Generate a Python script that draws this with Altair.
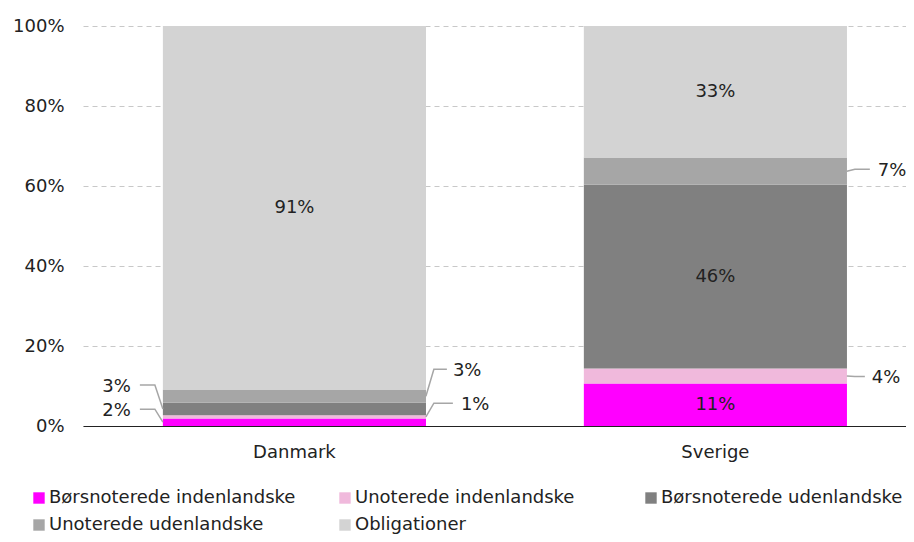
import altair as alt
import pandas as pd

categories = ["Danmark", "Sverige"]
series = [
    "Børsnoterede indenlandske",
    "Unoterede indenlandske",
    "Børsnoterede udenlandske",
    "Unoterede udenlandske",
    "Obligationer",
]
danmark = [1.9, 0.8, 3.1, 3.3, 90.9]
sverige = [10.6, 3.8, 45.9, 6.8, 32.9]
colors = ["#FF00FF", "#F0B9DC", "#808080", "#A6A6A6", "#D3D3D3"]
y_ticks = [0, 20, 40, 60, 80, 100]

# --- style: segments labelled outside the bar
# (side, label height in %, leader end px from bar edge, text px from bar edge)
outside = {
    ("Danmark", "Børsnoterede indenlandske"): ("left", 4.2, 23, 32),
    ("Danmark", "Børsnoterede udenlandske"): ("left", 10.25, 23, 32),
    ("Danmark", "Unoterede indenlandske"): ("right", 5.7, 27, 35),
    ("Danmark", "Unoterede udenlandske"): ("right", 14.2, 21, 27),
    ("Sverige", "Unoterede indenlandske"): ("right", 12.4, 18, 25),
    ("Sverige", "Unoterede udenlandske"): ("right", 64.2, 23, 31),
}
BAR_W = 263
ELBOW = 8

rows = []
for cat, vals in zip(categories, [danmark, sverige]):
    acc = 0.0
    for i, (s, v) in enumerate(zip(series, vals)):
        rows.append(dict(cat=cat, series=s, order=i, start=acc, end=acc + v,
                         mid=acc + v / 2, label=f"{round(v)}%",
                         inside=(cat, s) not in outside))
        acc += v
bars = pd.DataFrame(rows)


def edge_off(side, d):
    # pixel offset measured from the band start (bar's left edge)
    return -d if side == "left" else BAR_W + d


lead_rows, txt_rows = [], []
for k, ((cat, s), (side, ylab, cend, toff)) in enumerate(outside.items()):
    r = bars[(bars.cat == cat) & (bars.series == s)].iloc[0]
    lead_rows += [
        dict(id=k, pt=0, cat=cat, off=edge_off(side, 0), y=r.mid),
        dict(id=k, pt=1, cat=cat, off=edge_off(side, ELBOW), y=ylab),
        dict(id=k, pt=2, cat=cat, off=edge_off(side, cend), y=ylab),
    ]
    txt_rows.append(dict(cat=cat, off=edge_off(side, toff), y=ylab, label=r.label, side=side))
leaders = pd.DataFrame(lead_rows)
txt = pd.DataFrame(txt_rows)

FS = 18
xscale = alt.Scale(domain=categories, paddingInner=0.375, paddingOuter=0.165, align=0.575)
yscale = alt.Scale(domain=[0, 100])

x_axis = alt.X("cat:N", sort=categories, scale=xscale,
               axis=alt.Axis(title=None, labelAngle=0, ticks=False, domainColor="#222222",
                             domainWidth=1.2, labelFontSize=FS, labelColor="#222222",
                             labelPadding=17, zindex=1))

bar_layer = alt.Chart(bars).mark_bar().encode(
    x=x_axis,
    y=alt.Y("start:Q", scale=yscale,
            axis=alt.Axis(values=y_ticks, labelExpr="datum.value + '%'", title=None,
                          domain=False, ticks=False, gridDash=[5, 4], gridColor="#C8C8C8",
                          labelPadding=19, labelFontSize=FS, labelColor="#222222")),
    y2="end:Q",
    color=alt.Color("series:N", scale=alt.Scale(domain=series, range=colors),
                    legend=alt.Legend(title=None, orient="none", legendX=-53, legendY=463,
                                      direction="horizontal", columns=3, symbolType="square",
                                      symbolSize=130, symbolStrokeWidth=0, labelFontSize=FS,
                                      labelColor="#222222", columnPadding=40, rowPadding=9,
                                      gridAlign="all", labelLimit=400, labelOffset=1)),
)

inside_text = alt.Chart(bars).transform_filter("datum.inside").mark_text(
    fontSize=FS, color="#222222", baseline="middle"
).encode(x=alt.X("cat:N", sort=categories, scale=xscale), y=alt.Y("mid:Q", scale=yscale),
         text="label:N")

leader_layer = alt.Chart(leaders).mark_line(color="#A6A6A6", strokeWidth=1.5).encode(
    x=alt.X("cat:N", sort=categories, scale=xscale),
    xOffset=alt.XOffset("off:Q", scale=None),
    y=alt.Y("y:Q", scale=yscale),
    detail="id:N",
    order="pt:Q",
)


def side_text(side, align):
    return alt.Chart(txt).transform_filter(f"datum.side == '{side}'").mark_text(
        fontSize=FS, color="#222222", baseline="middle", align=align, dy=2
    ).encode(
        x=alt.X("cat:N", sort=categories, scale=xscale),
        xOffset=alt.XOffset("off:Q", scale=None),
        y=alt.Y("y:Q", scale=yscale),
        text="label:N",
    )


chart = alt.layer(bar_layer, inside_text, leader_layer,
                  side_text("left", "right"), side_text("right", "left")).properties(
    width=823, height=400,
    autosize=alt.AutoSizeParams(type="none"),
    padding={"left": 75, "top": 18, "right": 0, "bottom": 108},
).configure(font="DejaVu Sans").configure_view(stroke=None)

chart.save("out.html", embed_options={"renderer": "svg", "actions": False})
